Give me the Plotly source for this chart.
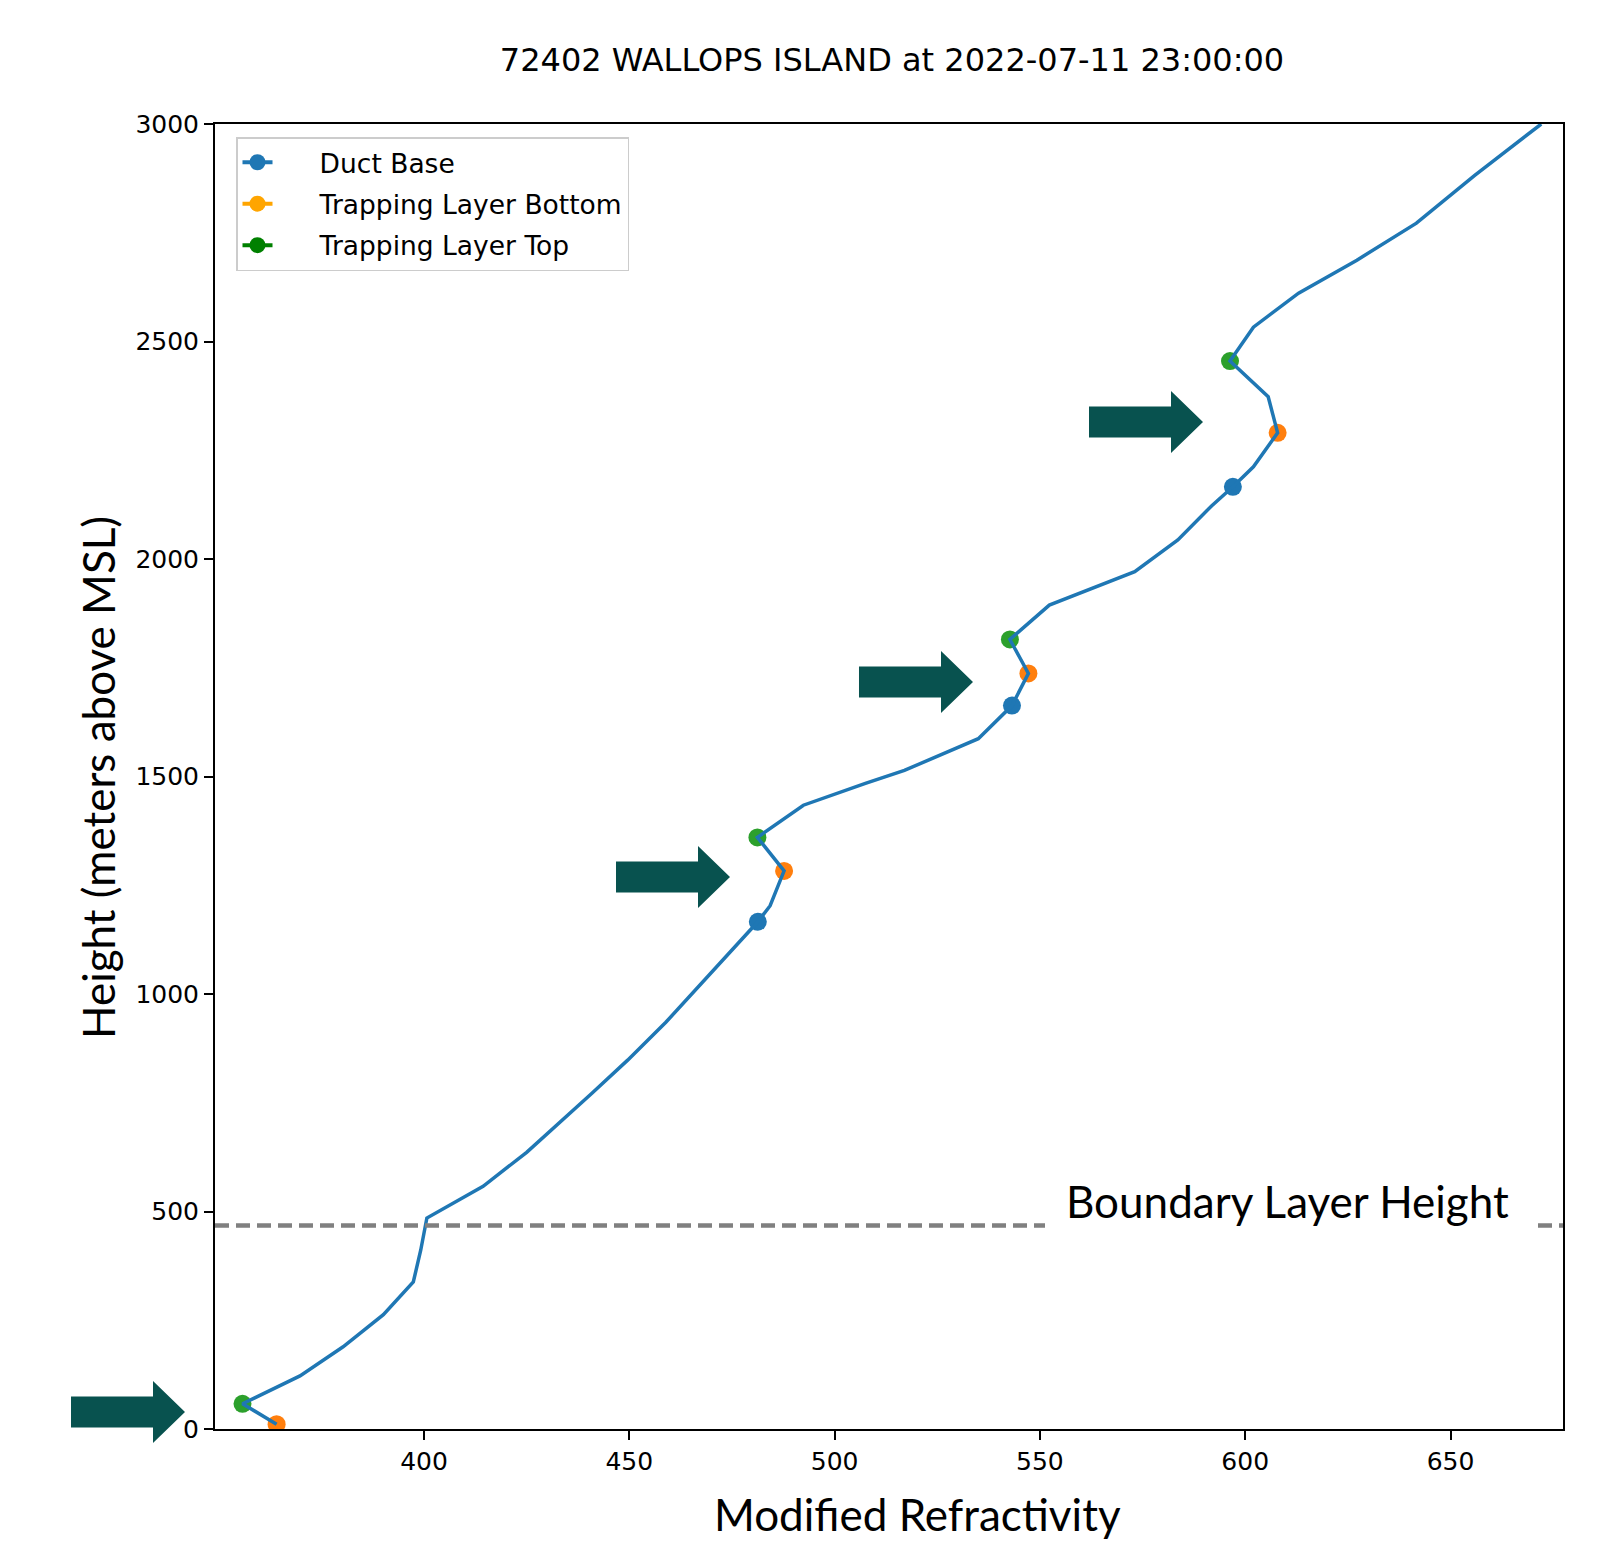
import plotly.graph_objects as go

# ---------------- data ----------------
refractivity = [364.1, 355.8, 369.8, 380.3, 390.1, 397.4, 399.2, 400.7, 414.4, 425.0,
                440.9, 449.6, 458.9, 472.1, 481.3, 484.3, 487.7, 481.2, 492.4, 507.5,
                517.0, 535.0, 543.2, 547.2, 542.7, 552.3, 573.1, 583.6, 591.8, 597.0,
                602.0, 607.9, 605.6, 596.3, 602.0, 613.0, 627.2, 641.7, 655.9, 672.1]
height = [11, 58, 122, 189, 263, 338, 411, 485, 558, 636,
          772, 848, 935, 1071, 1166, 1203, 1283, 1360, 1434, 1484,
          1514, 1587, 1663, 1737, 1815, 1894, 1971, 2044, 2122, 2166,
          2212, 2290, 2373, 2455, 2533, 2611, 2687, 2772, 2882, 3000]

duct_base_x = [481.3, 543.2, 597.0]
duct_base_y = [1166, 1663, 2166]
trap_bottom_x = [364.1, 487.7, 547.2, 607.9]
trap_bottom_y = [11, 1283, 1737, 2290]
trap_top_x = [355.8, 481.2, 542.7, 596.3]
trap_top_y = [58, 1360, 1815, 2455]

boundary_layer_height = 468

x_ticks = [400, 450, 500, 550, 600, 650]
y_ticks = [0, 500, 1000, 1500, 2000, 2500, 3000]

legend_names = ["Duct Base", "Trapping Layer Bottom", "Trapping Layer Top"]
legend_colors = ["#1f77b4", "#FFA500", "#008000"]

title_text = "72402 WALLOPS ISLAND at 2022-07-11 23:00:00"

# ---------------- layout constants ----------------
W, H = 1606, 1546
ML, MR, MT, MB = 215, 43, 124, 117
PW, PH = W - ML - MR, H - MT - MB

def px(xp):
    return (xp - ML) / PW

def py(yp):
    return (H - MB - yp) / PH

BASE_FONT = "DejaVu Sans"
LABEL_FONT = "Lato"

fig = go.Figure()

# markers first (line is drawn over them)
fig.add_trace(go.Scatter(x=duct_base_x, y=duct_base_y, mode="markers",
                         marker=dict(color="#1f77b4", size=18), showlegend=False))
fig.add_trace(go.Scatter(x=trap_bottom_x, y=trap_bottom_y, mode="markers",
                         marker=dict(color="#ff7f0e", size=18), showlegend=False))
fig.add_trace(go.Scatter(x=trap_top_x, y=trap_top_y, mode="markers",
                         marker=dict(color="#2ca02c", size=18), showlegend=False))
fig.add_trace(go.Scatter(x=refractivity, y=height, mode="lines",
                         line=dict(color="#1f77b4", width=3.5), showlegend=False))

# legend-only entries
for i, (name, col) in enumerate(zip(legend_names, legend_colors)):
    fig.add_trace(go.Scatter(x=[None], y=[None], mode="lines+markers",
                             name="\u00a0" * 5 + name, legendgroup=f"g{i}",
                             line=dict(color=col, width=4), marker=dict(color=col, size=18)))

shapes = []
# boundary layer dashed line
shapes.append(dict(type="line", xref="paper", yref="y", x0=0, x1=1,
                   y0=boundary_layer_height, y1=boundary_layer_height,
                   line=dict(color="#808080", width=4.5, dash="14px,7px"), layer="above"))
# white box behind the BLH label
shapes.append(dict(type="rect", xref="paper", yref="paper",
                   x0=px(1045), x1=px(1537), y0=py(1245), y1=py(1150),
                   fillcolor="white", line=dict(width=0), layer="above"))

# arrows (tip positions in pixels)
arrow_tips = [(185, 1412), (730, 877), (973, 682), (1203, 422)]
BODY_L, BODY_H, HEAD_L, HEAD_H = 82, 15.5, 32, 31
for tx, ty in arrow_tips:
    pts = [(tx - HEAD_L - BODY_L, ty - BODY_H), (tx - HEAD_L, ty - BODY_H), (tx - HEAD_L, ty - HEAD_H),
           (tx, ty), (tx - HEAD_L, ty + HEAD_H), (tx - HEAD_L, ty + BODY_H),
           (tx - HEAD_L - BODY_L, ty + BODY_H)]
    path = "M " + " L ".join(f"{px(a):.5f},{py(b):.5f}" for a, b in pts) + " Z"
    shapes.append(dict(type="path", xref="paper", yref="paper", path=path,
                       fillcolor="#08524F", line=dict(width=0), layer="above"))

annotations = [
    dict(text="Boundary Layer Height", xref="paper", yref="paper", x=px(1287), y=py(1201),
         showarrow=False, font=dict(family=LABEL_FONT, size=44, color="black"),
         xanchor="center", yanchor="middle"),
    dict(text="Modified Refractivity", xref="paper", yref="paper", x=px(917), y=py(1514),
         showarrow=False, font=dict(family=LABEL_FONT, size=44, color="black"),
         xanchor="center", yanchor="middle"),
    dict(text="Height (meters above MSL)", xref="paper", yref="paper", x=px(98), y=py(778),
         showarrow=False, textangle=-90, font=dict(family=LABEL_FONT, size=44, color="black"),
         xanchor="center", yanchor="middle"),
]

fig.update_layout(
    width=W, height=H,
    margin=dict(l=ML, r=MR, t=MT, b=MB, pad=0),
    paper_bgcolor="white", plot_bgcolor="white",
    title=dict(text=title_text, x=px(892), xanchor="center", y=1 - 60 / H, yanchor="middle",
               xref="paper", font=dict(family=BASE_FONT, size=32, color="black")),
    showlegend=True,
    legend=dict(x=px(236), y=py(137), xanchor="left", yanchor="top",
                bgcolor="white", bordercolor="#cccccc", borderwidth=1.5,
                traceorder="grouped", tracegroupgap=4,
                font=dict(family=BASE_FONT, size=26.5, color="black"), itemsizing="trace"),
    shapes=shapes,
    annotations=annotations,
)

fig.update_xaxes(range=[349.1, 677.4], tickvals=x_ticks, ticktext=[str(v) for v in x_ticks],
                 showgrid=False, zeroline=False, showline=True, mirror=True,
                 linecolor="black", linewidth=2, ticks="outside", ticklen=9, tickwidth=1.5,
                 tickcolor="black", tickfont=dict(family=BASE_FONT, size=25, color="black"))
fig.update_yaxes(range=[0, 3000], tickvals=y_ticks, ticktext=[str(v) for v in y_ticks],
                 showgrid=False, zeroline=False, showline=True, mirror=True,
                 linecolor="black", linewidth=2, ticks="outside", ticklen=9, tickwidth=1.5,
                 tickcolor="black", tickfont=dict(family=BASE_FONT, size=25, color="black"))

fig.write_html("out.html")
